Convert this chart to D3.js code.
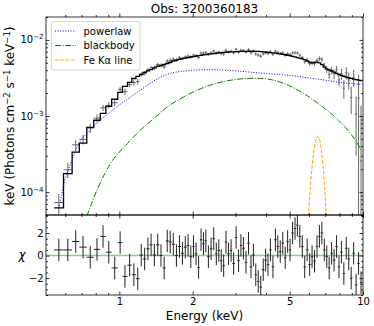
<!DOCTYPE html>
<html><head><meta charset="utf-8">
<script src="https://cdn.jsdelivr.net/npm/d3@7"></script>
<style>
body{margin:0;background:#fff}
svg{display:block}
text{font-family:"DejaVu Sans",sans-serif;fill:#000}
</style>
</head><body>
<svg id="c" width="374" height="326"></svg>
<script>
// ---- data ----
const titleText = "Obs: 3200360183";
const binEdges = [0.54,0.59,0.64,0.685,0.735,0.785,0.835,0.88,0.93,0.985,1.03,1.08,1.125,1.17,1.21,1.25,1.29,1.33,1.37,1.415,1.46,1.505,1.55,1.595,1.64,1.69,1.74,1.79,1.84,1.89,1.94,1.99,2.04,2.09,2.14,2.19,2.24,2.29,2.35,2.41,2.47,2.53,2.59,2.65,2.71,2.77,2.84,2.91,2.98,3.05,3.12,3.19,3.27,3.35,3.43,3.51,3.59,3.67,3.76,3.85,3.94,4.03,4.12,4.22,4.32,4.42,4.52,4.63,4.74,4.85,4.96,5.08,5.20,5.32,5.44,5.57,5.70,5.83,5.97,6.11,6.25,6.40,6.55,6.70,6.86,7.02,7.18,7.35,7.52,7.70,7.88,8.06,8.25,8.44,8.64,8.84,9.05,9.26,9.48,9.70,9.93];
const modelTotal = [6.2e-5,1.75e-4,3.35e-4,4.4e-4,7.1e-4,8.8e-4,1.08e-3,1.34e-3,1.66e-3,2.04e-3,
2.45e-3,2.76e-3,3.11e-3,3.31e-3,3.51e-3,3.73e-3,3.91e-3,4.08e-3,4.28e-3,4.48e-3,
4.61e-3,4.75e-3,4.90e-3,5.05e-3,5.28e-3,5.44e-3,5.56e-3,5.66e-3,5.76e-3,5.86e-3,
5.96e-3,6.04e-3,6.14e-3,6.21e-3,6.29e-3,6.37e-3,6.42e-3,6.50e-3,6.56e-3,6.62e-3,
6.68e-3,6.75e-3,6.80e-3,6.84e-3,6.88e-3,6.92e-3,6.96e-3,6.98e-3,7.00e-3,7.03e-3,
7.05e-3,7.07e-3,7.07e-3,7.09e-3,7.09e-3,7.09e-3,7.07e-3,7.05e-3,7.00e-3,6.96e-3,
6.92e-3,6.88e-3,6.82e-3,6.76e-3,6.70e-3,6.62e-3,6.54e-3,6.46e-3,6.38e-3,6.29e-3,
6.20e-3,6.08e-3,5.98e-3,5.86e-3,5.76e-3,5.62e-3,5.49e-3,5.30e-3,5.10e-3,5.00e-3,
5.05e-3,5.10e-3,5.00e-3,4.75e-3,4.40e-3,4.15e-3,4.02e-3,3.90e-3,3.78e-3,3.64e-3,
3.51e-3,3.41e-3,3.33e-3,3.25e-3,3.18e-3,3.12e-3,3.06e-3,3.01e-3,2.96e-3,2.92e-3];
const chiResid = [0.5,0.5,1.25,0.75,-0.15,0.55,1.7,0.3,-1.1,1.15,
-1.85,-0.85,-1.7,-2.05,0.05,-0.3,0.6,0.95,0.05,0.95,
0.0,-1.1,1.3,1.2,1.0,0.0,0.8,0.2,0.75,0.9,
-0.1,0.8,0.15,-1.05,1.4,1.05,1.3,-0.1,0.6,1.5,
0.15,0.45,-0.45,-0.9,1.2,0.15,0.45,-0.7,1.6,-0.45,
0.9,0.65,-0.6,1.1,-1.0,0.05,-1.7,-2.3,-2.8,-1.25,
-0.4,-0.8,0.5,-1.0,1.4,0.8,0.35,1.1,-0.2,1.25,
0.5,2.0,2.4,2.7,1.7,0.8,-1.0,0.5,-0.8,-0.1,
-0.5,0.8,1.7,2.0,0.5,-0.1,-1.1,0.2,-0.4,0.8,
-1.0,0.3,-1.6,0.65,-0.3,-2.0,0.2,-2.6,-0.7,-2.4];
const relErr = [0.35,0.25,0.2,0.16,0.14,0.12,0.11,0.10,0.09,0.085,
0.08,0.075,0.07,0.07,0.065,0.065,0.06,0.06,0.06,0.06,
0.06,0.06,0.06,0.06,0.06,0.06,0.06,0.05,0.05,0.05,
0.05,0.05,0.05,0.05,0.05,0.05,0.05,0.05,0.05,0.05,
0.05,0.05,0.05,0.05,0.05,0.045,0.045,0.045,0.045,0.045,
0.045,0.045,0.045,0.045,0.045,0.045,0.045,0.045,0.045,0.045,
0.045,0.045,0.045,0.045,0.045,0.045,0.045,0.045,0.045,0.045,
0.055,0.055,0.055,0.055,0.055,0.055,0.055,0.055,0.055,0.055,
0.07,0.075,0.08,0.085,0.09,0.10,0.11,0.12,0.13,0.14,
0.15,0.17,0.19,0.21,0.23,0.22,0.27,0.25,0.6,0.38];
const plEnergy = [0.568,0.598,0.627,0.677,0.758,0.833,0.916,1.007,1.107,1.216,1.337,1.47,1.616,1.862,2.146,2.474,2.85,3.785,5.027,6.676,8.066,9.93];
const plValue  = [6.6e-5,1.44e-4,2.26e-4,4.13e-4,6.5e-4,8.8e-4,1.12e-3,1.42e-3,1.76e-3,2.17e-3,2.68e-3,3.21e-3,3.62e-3,3.91e-3,4.05e-3,4.05e-3,3.96e-3,3.67e-3,3.41e-3,3.02e-3,2.76e-3,2.6e-3];
const bbEnergy = [0.735,0.81,0.92,1.08,1.26,1.36,1.57,1.83,2.15,2.51,2.94,3.44,3.79,4.23,4.95,5.79,6.79,7.94,9.3,9.9];
const bbValue  = [4.8e-5,1.07e-4,2.38e-4,4.35e-4,7.18e-4,8.79e-4,1.31e-3,1.77e-3,2.28e-3,2.70e-3,2.99e-3,3.12e-3,3.12e-3,2.99e-3,2.52e-3,1.92e-3,1.34e-3,8.79e-4,4.81e-4,3.48e-4];
const feEnergy = [5.9,6.0,6.1,6.2,6.3,6.4,6.5,6.6,6.7,6.8,6.9,7.0,7.1,7.2];
const feValue  = [2.5e-5,6.2e-5,1.32e-4,2.38e-4,3.67e-4,4.81e-4,5.38e-4,5.13e-4,4.17e-4,2.88e-4,1.70e-4,8.5e-5,3.7e-5,1.3e-5];
const xMajor = [1,2,5,10];
const xMinor = [0.6,0.7,0.8,0.9,3,4,6,7,8,9];
const yMajorExp = [-4,-3,-2];
const chiMajor = [-2,0,2];
const legendLabels = ["powerlaw","blackbody","Fe K\u03b1 line"];

// ---- layout ----
const L=46,R=363,T=17,M=215,B=295;
const svg=d3.select("#c");
const x=d3.scaleLog().domain([0.5,10]).range([L,R]);
const y=d3.scaleLog().domain([5e-5,2e-2]).range([M,T]);
const yr=d3.scaleLinear().domain([-3.5,3.6]).range([B,M]);

const defs=svg.append("defs");
defs.append("clipPath").attr("id","ctop").append("rect").attr("x",L).attr("y",T).attr("width",R-L).attr("height",M-T);
defs.append("clipPath").attr("id","cbot").append("rect").attr("x",L).attr("y",M).attr("width",R-L).attr("height",B-M);

const bins=d3.range(modelTotal.length).map(i=>{
  const m=modelTotal[i], err=m*relErr[i], d=m+chiResid[i]*err;
  return {lo:binEdges[i],hi:binEdges[i+1],c:Math.sqrt(binEdges[i]*binEdges[i+1]),m,d,err,chi:chiResid[i]};
});

// ---- top panel ----
const gTop=svg.append("g").attr("clip-path","url(#ctop)");
// data crosses
const gd=gTop.append("g").attr("stroke","#666").attr("stroke-width",1);
bins.forEach(b=>{
  gd.append("line").attr("x1",x(b.lo)).attr("x2",x(b.hi)).attr("y1",y(b.d)).attr("y2",y(b.d));
  const lowV=b.d-b.err>0? y(b.d-b.err): M+5;
  gd.append("line").attr("x1",x(b.c)).attr("x2",x(b.c)).attr("y1",y(b.d+b.err)).attr("y2",lowV);
});
// model steps
const stepPts=[];bins.forEach(b=>{stepPts.push([b.lo,b.m]);stepPts.push([b.hi,b.m]);});
gTop.append("path").attr("d",d3.line().x(p=>x(p[0])).y(p=>y(p[1]))(stepPts))
  .attr("fill","none").attr("stroke","#000").attr("stroke-width",1.3);
const comp=(E,V)=>d3.line().curve(d3.curveMonotoneX).x((e,i)=>x(e)).y((e,i)=>y(V[i]))(E);
gTop.append("path").attr("d",comp(plEnergy,plValue)).attr("fill","none").attr("stroke","#0000ff").attr("stroke-width",1).attr("stroke-dasharray","1,1.6");
gTop.append("path").attr("d",comp(bbEnergy,bbValue)).attr("fill","none").attr("stroke","#008000").attr("stroke-width",1).attr("stroke-dasharray","6,1.6,1,1.6");
gTop.append("path").attr("d",comp(feEnergy,feValue)).attr("fill","none").attr("stroke","#ffa500").attr("stroke-width",1).attr("stroke-dasharray","3.7,1.6");

// ---- bottom panel ----
const gBot=svg.append("g").attr("clip-path","url(#cbot)");
gBot.append("line").attr("x1",L).attr("x2",R).attr("y1",yr(0)).attr("y2",yr(0)).attr("stroke","#2ca02c").attr("stroke-opacity",0.55).attr("stroke-width",1.6);
const gr=gBot.append("g").attr("stroke","#222").attr("stroke-width",1);
bins.forEach(b=>{
  gr.append("line").attr("x1",x(b.lo)).attr("x2",x(b.hi)).attr("y1",yr(b.chi)).attr("y2",yr(b.chi));
  gr.append("line").attr("x1",x(b.c)).attr("x2",x(b.c)).attr("y1",yr(b.chi+1)).attr("y2",yr(b.chi-1));
});

// ---- axes ----
function styleAxis(g){g.select(".domain").remove();g.selectAll(".tick line").attr("stroke","#000").attr("stroke-width",0.8);g.selectAll("text").attr("font-size",10).attr("font-family","DejaVu Sans").attr("fill","#000");}
const maj=3.5,mnr=2;
// x axes
[[M,true],[T,false]].forEach(([yy])=>{
  svg.append("g").attr("transform",`translate(0,${yy})`).call(d3.axisBottom(x).tickValues(xMajor).tickSize(-maj).tickFormat("")).call(styleAxis);
  svg.append("g").attr("transform",`translate(0,${yy})`).call(d3.axisBottom(x).tickValues(xMinor).tickSize(-mnr).tickFormat("")).call(styleAxis);
});
svg.append("g").attr("transform",`translate(0,${M})`).call(d3.axisTop(x).tickValues(xMajor).tickSize(-maj).tickFormat("")).call(styleAxis);
svg.append("g").attr("transform",`translate(0,${M})`).call(d3.axisTop(x).tickValues(xMinor).tickSize(-mnr).tickFormat("")).call(styleAxis);
svg.append("g").attr("transform",`translate(0,${B})`).call(d3.axisBottom(x).tickValues(xMajor).tickSize(-maj).tickPadding(2.5).tickFormat(d3.format("d"))).call(styleAxis);
svg.append("g").attr("transform",`translate(0,${B})`).call(d3.axisBottom(x).tickValues(xMinor).tickSize(-mnr).tickFormat("")).call(styleAxis);

// y axes top (log)
const yMinor=[];[-5,-4,-3,-2].forEach(e=>{for(let k=2;k<=9;k++){const v=k*Math.pow(10,e);if(v>=5e-5&&v<=2e-2)yMinor.push(v);}});
const yMajor=yMajorExp.map(e=>Math.pow(10,e));
svg.append("g").attr("transform",`translate(${L},0)`).call(d3.axisLeft(y).tickValues(yMajor).tickSize(-maj).tickFormat("")).call(styleAxis);
svg.append("g").attr("transform",`translate(${L},0)`).call(d3.axisLeft(y).tickValues(yMinor).tickSize(-mnr).tickFormat("")).call(styleAxis);
svg.append("g").attr("transform",`translate(${R},0)`).call(d3.axisRight(y).tickValues(yMajor).tickSize(-maj).tickFormat("")).call(styleAxis);
svg.append("g").attr("transform",`translate(${R},0)`).call(d3.axisRight(y).tickValues(yMinor).tickSize(-mnr).tickFormat("")).call(styleAxis);
yMajorExp.forEach(e=>{
  const t=svg.append("text").attr("x",L-2.5).attr("y",y(Math.pow(10,e))+3.5).attr("text-anchor","end").attr("font-size",10);
  t.append("tspan").text("10");
  t.append("tspan").attr("font-size",7).attr("dy",-4).text("\u2212"+Math.abs(e));
});
// y axes bottom (chi)
const chiMinor=d3.range(-3.5,3.6,0.5).filter(v=>!chiMajor.includes(v));
svg.append("g").attr("transform",`translate(${L},0)`).call(d3.axisLeft(yr).tickValues(chiMajor).tickSize(-maj).tickPadding(2.5).tickFormat(d=>d<0?"\u2212"+Math.abs(d):d)).call(styleAxis);
svg.append("g").attr("transform",`translate(${L},0)`).call(d3.axisLeft(yr).tickValues(chiMinor).tickSize(-mnr).tickFormat("")).call(styleAxis);
svg.append("g").attr("transform",`translate(${R},0)`).call(d3.axisRight(yr).tickValues(chiMajor).tickSize(-maj).tickFormat("")).call(styleAxis);
svg.append("g").attr("transform",`translate(${R},0)`).call(d3.axisRight(yr).tickValues(chiMinor).tickSize(-mnr).tickFormat("")).call(styleAxis);

// frames
svg.append("rect").attr("x",L).attr("y",T).attr("width",R-L).attr("height",M-T).attr("fill","none").attr("stroke","#000").attr("stroke-width",0.8);
svg.append("rect").attr("x",L).attr("y",M).attr("width",R-L).attr("height",B-M).attr("fill","none").attr("stroke","#000").attr("stroke-width",0.8);

// ---- legend ----
const lg=svg.append("g");
lg.append("rect").attr("x",51.5).attr("y",21.5).attr("width",88.5).attr("height",48.5).attr("rx",2).attr("fill","#fff").attr("fill-opacity",0.8).attr("stroke","#ccc").attr("stroke-width",0.8);
const lstyles=[["#0000ff","1,1.6"],["#008000","6,1.6,1,1.6"],["#ffa500","3.7,1.6"]];
legendLabels.forEach((lab,i)=>{
  const yy=31+i*14.5;
  lg.append("line").attr("x1",55).attr("x2",76).attr("y1",yy).attr("y2",yy).attr("stroke",lstyles[i][0]).attr("stroke-width",1).attr("stroke-dasharray",lstyles[i][1]);
  lg.append("text").attr("x",83.5).attr("y",yy+3.6).attr("font-size",10).text(lab);
});

// ---- labels ----
svg.append("text").attr("x",(L+R)/2).attr("y",13).attr("text-anchor","middle").attr("font-size",12).text(titleText);
svg.append("text").attr("x",(L+R)/2).attr("y",320).attr("text-anchor","middle").attr("font-size",12).text("Energy (keV)");
const yl=svg.append("text").attr("transform",`translate(14,${(T+M)/2}) rotate(-90)`).attr("text-anchor","middle").attr("font-size",12);
yl.append("tspan").text("keV (Photons cm");
yl.append("tspan").attr("font-size",8.5).attr("dy",-4.5).text("\u22122");
yl.append("tspan").attr("dy",4.5).text(" s");
yl.append("tspan").attr("font-size",8.5).attr("dy",-4.5).text("\u22121");
yl.append("tspan").attr("dy",4.5).text(" keV");
yl.append("tspan").attr("font-size",8.5).attr("dy",-4.5).text("\u22121");
yl.append("tspan").attr("dy",4.5).text(")");
svg.append("text").attr("x",22).attr("y",(M+B)/2+4).attr("text-anchor","middle").attr("font-size",12).attr("font-style","italic").text("\u03c7");
</script>
</body></html>
